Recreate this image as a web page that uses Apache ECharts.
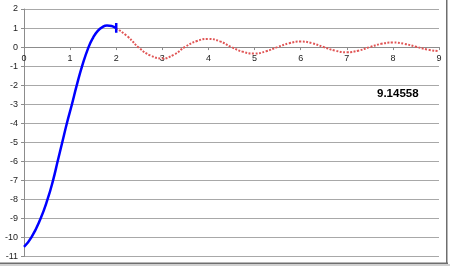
<!DOCTYPE html>
<html>
<head>
<meta charset="utf-8">
<script src="https://cdn.jsdelivr.net/npm/echarts@6/dist/echarts.min.js"></script>
<style>
html,body{margin:0;padding:0;background:#fff;}
#c{width:450px;height:266px;}
</style>
</head>
<body>
<div id="c"></div>
<script>
// Blue segment (0..2)
var blueX = [0, 0.16, 0.36, 0.51, 0.63, 0.73, 0.83, 0.93, 1.04, 1.145, 1.26, 1.40, 1.5, 1.6, 1.7, 1.8, 1.9, 2.0];
var blueY = [-10.5, -10, -9, -8, -7, -6, -5, -4, -3, -2, -1, 0, 0.5, 0.85, 1.05, 1.13, 1.11, 0.99];
// Red dotted segment (2..9)
var redX = [2.0, 2.25, 2.5, 2.75, 3.0, 3.25, 3.5, 3.75, 4.0, 4.25, 4.5, 4.75, 5.0, 5.25, 5.5, 5.75, 6.0, 6.25, 6.5, 6.75, 7.0, 7.25, 7.5, 7.75, 8.0, 8.25, 8.5, 8.75, 9.0];
var redY = [0.99, 0.55, -0.05, -0.45, -0.6, -0.4, 0.02, 0.32, 0.43, 0.3, 0.0, -0.25, -0.34, -0.22, 0.0, 0.2, 0.29, 0.2, 0.0, -0.19, -0.27, -0.19, 0.0, 0.17, 0.24, 0.17, 0.02, -0.13, -0.22];
// Vertical marker at end of blue segment
var markX = [2, 2];
var markY = [0.75, 1.27];
// Axis ranges
var xMin = 0, xMax = 9;
var yMin = -11, yMax = 2;
var valueText = "9.14558";

function pairs(xs, ys) { return xs.map(function (x, i) { return [x, ys[i]]; }); }

var H = 266, gridTop = 9, gridBottom = 9.5;
var innerH = H - gridTop - gridBottom;
var zeroOffset = -innerH * (0 - yMin) / (yMax - yMin);

var chart = echarts.init(document.getElementById('c'), null, { renderer: 'canvas' });
chart.setOption({
  animation: false,
  backgroundColor: '#ffffff',
  grid: { left: 24, right: 11, top: gridTop, bottom: gridBottom, containLabel: false },
  xAxis: {
    type: 'value', min: xMin, max: xMax, interval: 1, offset: zeroOffset,
    axisLine: { show: true, onZero: false, lineStyle: { color: '#8c8c8c', width: 1 } },
    axisTick: { show: true, length: 3, lineStyle: { color: '#8c8c8c' } },
    axisLabel: { color: '#222', fontSize: 9, fontFamily: 'Liberation Sans', margin: 7 },
    splitLine: { show: false }
  },
  yAxis: {
    type: 'value', min: yMin, max: yMax, interval: 1,
    axisLine: { show: true, lineStyle: { color: '#8c8c8c', width: 1 } },
    axisTick: { show: true, length: 3, lineStyle: { color: '#8c8c8c' } },
    axisLabel: { color: '#222', fontSize: 9, fontFamily: 'Liberation Sans', margin: 6 },
    splitLine: { show: true, lineStyle: { color: '#a8a8a8', width: 1 } }
  },
  graphic: [
    { type: 'text', left: 377, top: 88, style: { text: valueText, font: 'bold 11.5px "Liberation Sans"', fill: '#000' } },
    { type: 'rect', shape: { x: 446, y: 0, width: 1.5, height: 264 }, style: { fill: '#6e6e6e' } },
    { type: 'rect', shape: { x: 0, y: 262.5, width: 448, height: 1.5 }, style: { fill: '#6e6e6e' } },
    { type: 'rect', shape: { x: 0, y: 264, width: 450, height: 2 }, style: { fill: '#d0d0d0' } }
  ],
  series: [
    {
      type: 'line', data: pairs(redX, redY), smooth: true, symbol: 'none',
      lineStyle: { color: '#e05555', width: 2, type: [2, 1.5] }, z: 2
    },
    {
      type: 'line', data: pairs(blueX, blueY), smooth: true, symbol: 'none',
      lineStyle: { color: '#0000ff', width: 2.5 }, z: 3
    },
    {
      type: 'line', data: pairs(markX, markY), symbol: 'none',
      lineStyle: { color: '#0000ff', width: 2.5 }, z: 3
    }
  ]
});
</script>
</body>
</html>
